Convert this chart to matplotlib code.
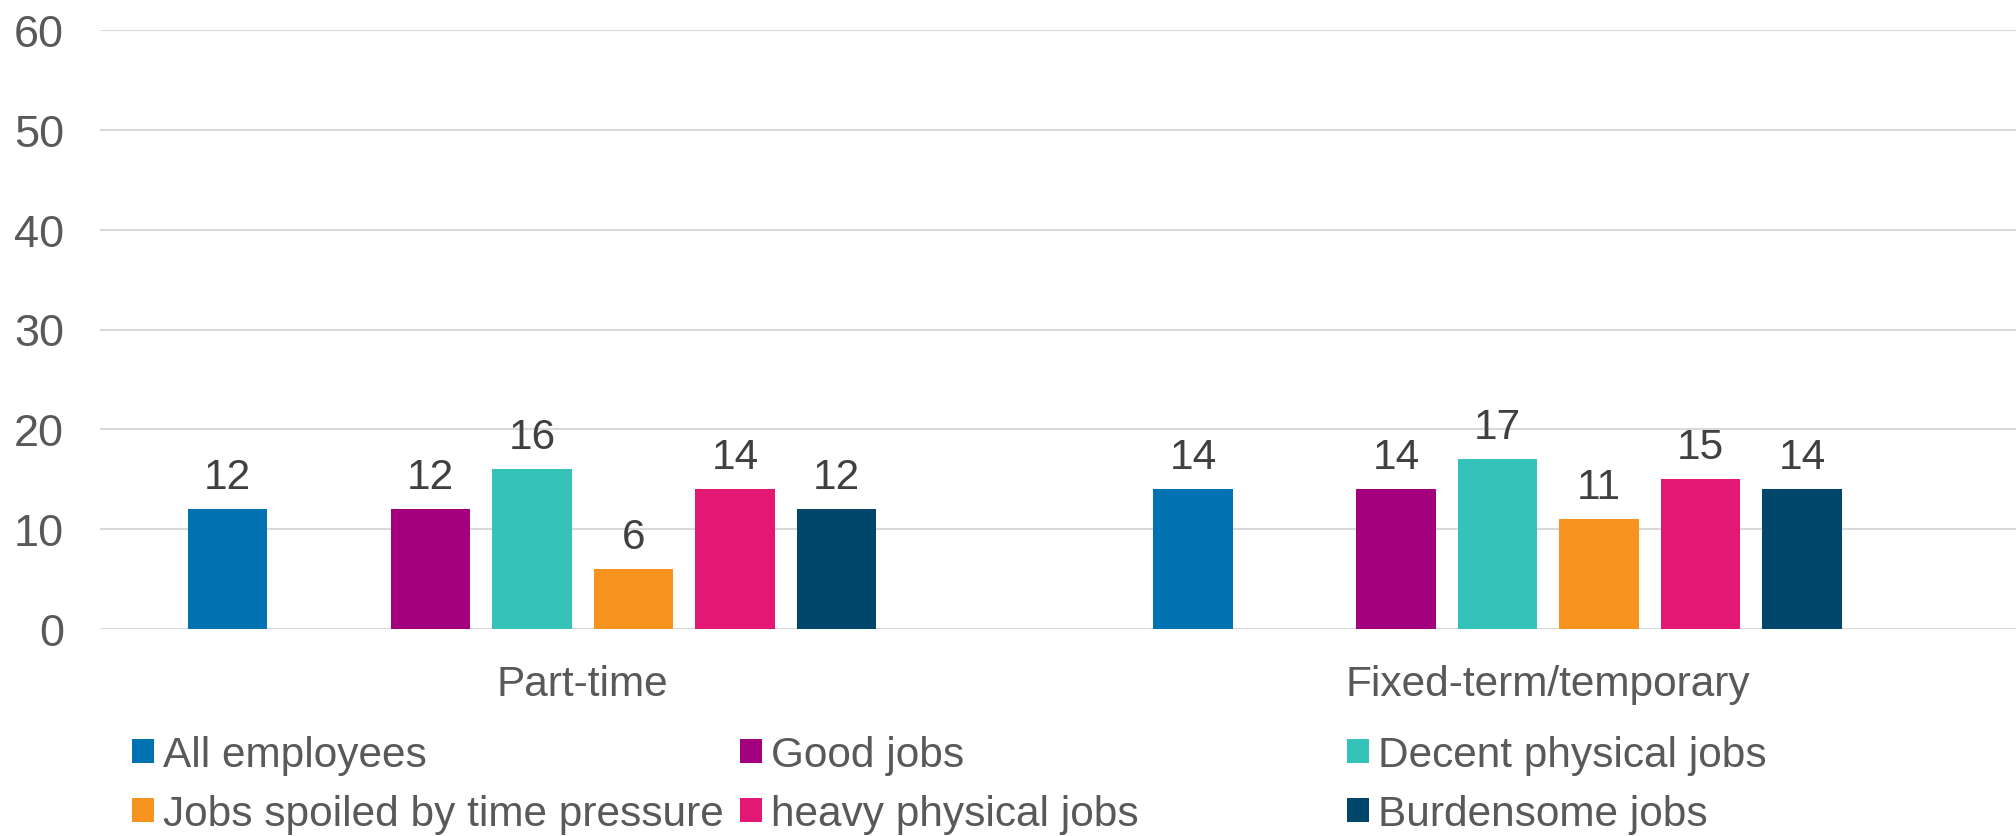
import numpy as np
import matplotlib.pyplot as plt
from matplotlib.patches import Patch

plt.rcParams['font.family'] = ['Liberation Sans', 'DejaVu Sans']

categories = ['Part-time', 'Fixed-term/temporary']
series_names = ['All employees', 'Good jobs', 'Decent physical jobs',
                'Jobs spoiled by time pressure', 'heavy physical jobs', 'Burdensome jobs']
all_employees = [12, 14]
good_jobs = [12, 14]
decent_physical = [16, 17]
time_pressure = [6, 11]
heavy_physical = [14, 15]
burdensome = [12, 14]
colors = ['#0071b1', '#a3007e', '#35c2b9', '#f7941f', '#e31875', '#00476b']

# slot of each series in a group of 8 (slots 1 and 7 are left empty)
slots = [0, 2, 3, 4, 5, 6]
n_slots = 8
slot_w = 0.1051
bar_w = 0.0826


def main():
    values = [all_employees, good_jobs, decent_physical,
              time_pressure, heavy_physical, burdensome]
    fig = plt.figure(figsize=(20.16, 8.37), dpi=100)
    # plot area runs a little past the right edge of the figure
    ax = fig.add_axes([100 / 2016, 207 / 837, 1931 / 2016, 599 / 837])

    x = np.arange(len(categories))
    for vals, slot, col in zip(values, slots, colors):
        pos = x + (slot - (n_slots - 1) / 2) * slot_w
        ax.bar(pos, vals, width=bar_w, color=col, zorder=3)
        for px, v in zip(pos, vals):
            ax.annotate(str(v), (px, v), xytext=(0, 15), textcoords='offset points',
                        ha='center', va='baseline', fontsize=30.5, color='#404040')

    ax.set_xlim(-0.5, 1.5)
    ax.set_ylim(0, 60)
    ax.set_yticks(range(0, 61, 10))
    ax.set_xticks(x)
    ax.set_xticklabels(categories)
    ax.tick_params(axis='y', length=0, pad=26, labelsize=32.5, labelcolor='#595959')
    ax.tick_params(axis='x', length=0, pad=25, labelsize=30.5, labelcolor='#595959')
    ax.grid(axis='y', color='#d9d9d9', linewidth=1.5, zorder=0)
    for s in ax.spines.values():
        s.set_visible(False)

    # legend laid out as three fixed-width columns
    col_x = [132, 740, 1347]
    for c in range(3):
        idx = [c, c + 3]
        handles = [Patch(facecolor=colors[i]) for i in idx]
        fig.legend(handles, [series_names[i] for i in idx], loc='center left',
                   bbox_to_anchor=(col_x[c] / 2016, 51.5 / 837), frameon=False,
                   fontsize=30.5, labelcolor='#595959', borderpad=0, borderaxespad=0,
                   handlelength=0.52, handleheight=0.52, handletextpad=0.21,
                   labelspacing=0.45)

    fig.savefig('out.png', dpi=100)


if __name__ == '__main__':
    main()
